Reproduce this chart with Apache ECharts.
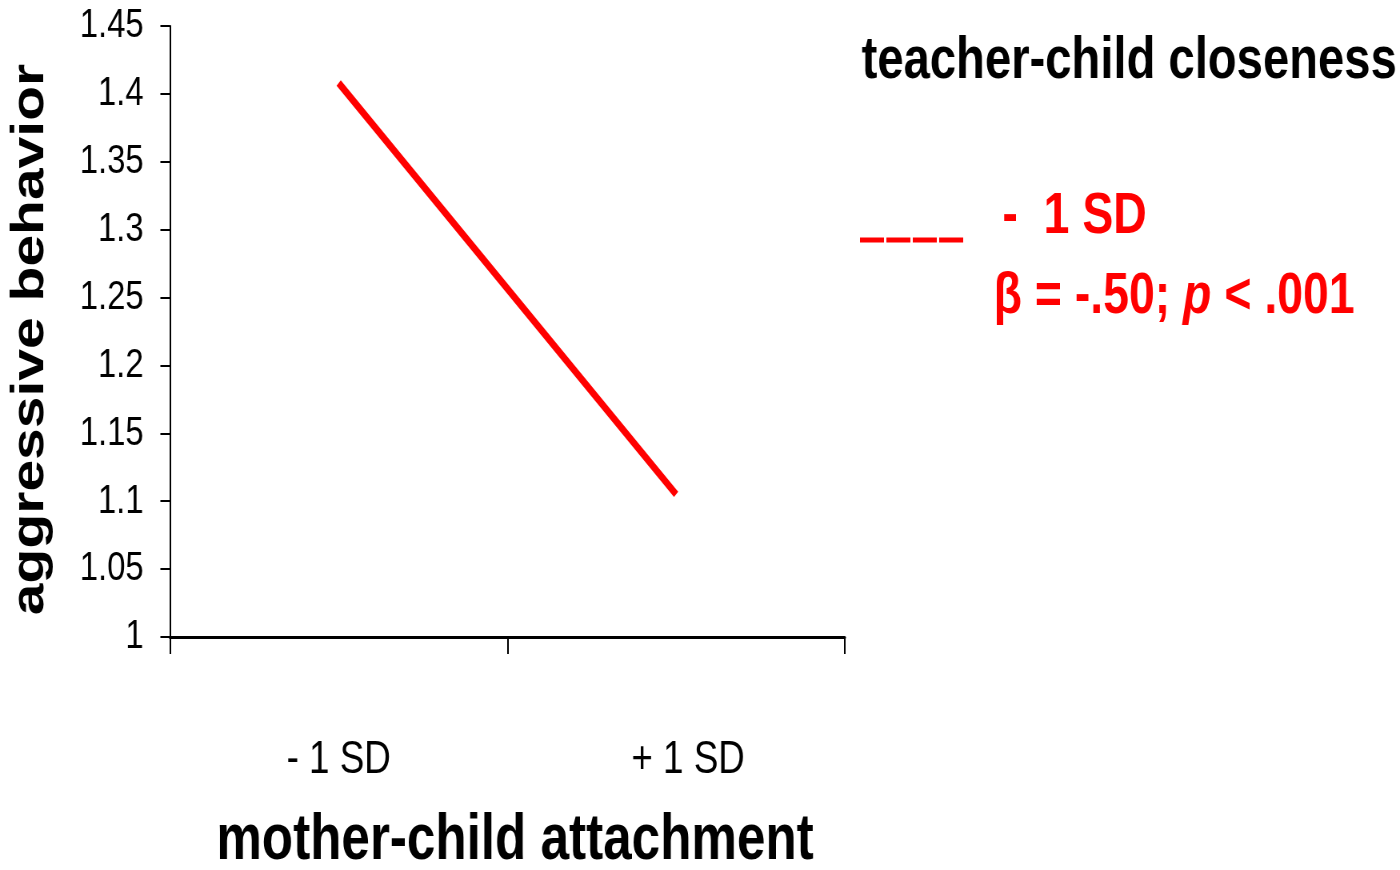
<!DOCTYPE html>
<html>
<head>
<meta charset="utf-8">
<script src="https://cdn.jsdelivr.net/npm/echarts@6/dist/echarts.min.js"></script>
<style>
  html, body { margin: 0; padding: 0; background: #fff; overflow: hidden; }
  /* the source picture is squeezed across, so draw wide and squeeze the same way */
  #chart { width: 1750px; height: 870px; transform: scaleX(0.8); transform-origin: 0 0; }
</style>
</head>
<body>
<div id="chart"></div>
<script>
// data
const categories = ['- 1 SD', '+ 1 SD']
const lowClosenessValues = [1.408, 1.105]
const yMin = 1
const yMax = 1.45
const yStep = 0.05

const sans = '"Liberation Sans", Arial, sans-serif'
const red = '#ff0000'

const chart = echarts.init(document.getElementById('chart'))

const option = {
  backgroundColor: '#fff',
  animation: false,
  title: {
    text: 'teacher-child closeness',
    left: 1072,
    top: 27,
    textStyle: { fontFamily: sans, fontWeight: 'bold', fontSize: 59, color: '#000' }
  },
  // legend key drawn as four short dashes, text lifted above them
  legend: {
    data: ['- 1 SD'],
    left: 1075,
    top: 188,
    padding: 0,
    itemWidth: 129,
    itemHeight: 5,
    icon: 'path://M0,0h30v5h-30zM33,0h30v5h-30zM66,0h30v5h-30zM99,0h30v5h-30z',
    formatter: () => '{t|-  1 SD}',
    textStyle: {
      rich: {
        t: {
          fontFamily: sans, fontWeight: 'bold', fontSize: 58, color: red,
          padding: [0, 0, 46, 44]
        }
      }
    }
  },
  grid: { left: 212.5, right: 694, top: 26, bottom: 233, outerBoundsMode: 'none' },
  xAxis: {
    type: 'category',
    data: categories,
    name: 'mother-child attachment',
    nameLocation: 'middle',
    nameGap: 172,
    nameTextStyle: { fontFamily: sans, fontWeight: 'bold', fontSize: 64, color: '#000', padding: [0, 0, 0, 19] },
    axisLine: { lineStyle: { color: '#000', width: 3 } },
    axisTick: { show: true, length: 17, lineStyle: { color: '#000', width: 2 } },
    axisLabel: {
      margin: 100,
      fontFamily: sans,
      fontSize: 46,
      color: '#000',
      // the second label sits a little right of its slot in the source
      formatter: (v, i) => (i === 1 ? '{r|' + v + '}' : v),
      rich: { r: { fontFamily: sans, fontSize: 46, color: '#000', padding: [0, 0, 0, 30] } }
    }
  },
  yAxis: {
    type: 'value',
    min: yMin,
    max: yMax,
    interval: yStep,
    name: 'aggressive behavior',
    nameLocation: 'middle',
    nameRotate: 90,
    nameGap: 146,
    nameTextStyle: { fontFamily: sans, fontWeight: 'bold', fontSize: 57, color: '#000', padding: [0, 16, 0, 0] },
    splitLine: { show: false },
    axisLine: { show: true, lineStyle: { color: '#000', width: 2 } },
    axisTick: { show: true, length: 12, lineStyle: { color: '#000', width: 2 } },
    axisLabel: { margin: 33, fontFamily: sans, fontSize: 41, color: '#000' }
  },
  series: [
    {
      name: '- 1 SD',
      type: 'line',
      data: lowClosenessValues,
      symbol: 'none',
      itemStyle: { color: red },
      lineStyle: { color: red, width: 7.5 }
    }
  ],
  graphic: [
    {
      type: 'text',
      x: 1242,
      y: 268,
      style: {
        text: '{n|β = -.50; }{i|p}{n| < .001}',
        fill: red,
        align: 'left', verticalAlign: 'top',
        rich: {
          n: { fontFamily: sans, fontWeight: 'bold', fontSize: 58, fill: red },
          i: { fontFamily: sans, fontWeight: 'bold', fontStyle: 'italic', fontSize: 58, fill: red }
        }
      }
    }
  ]
}

chart.setOption(option)
</script>
</body>
</html>
